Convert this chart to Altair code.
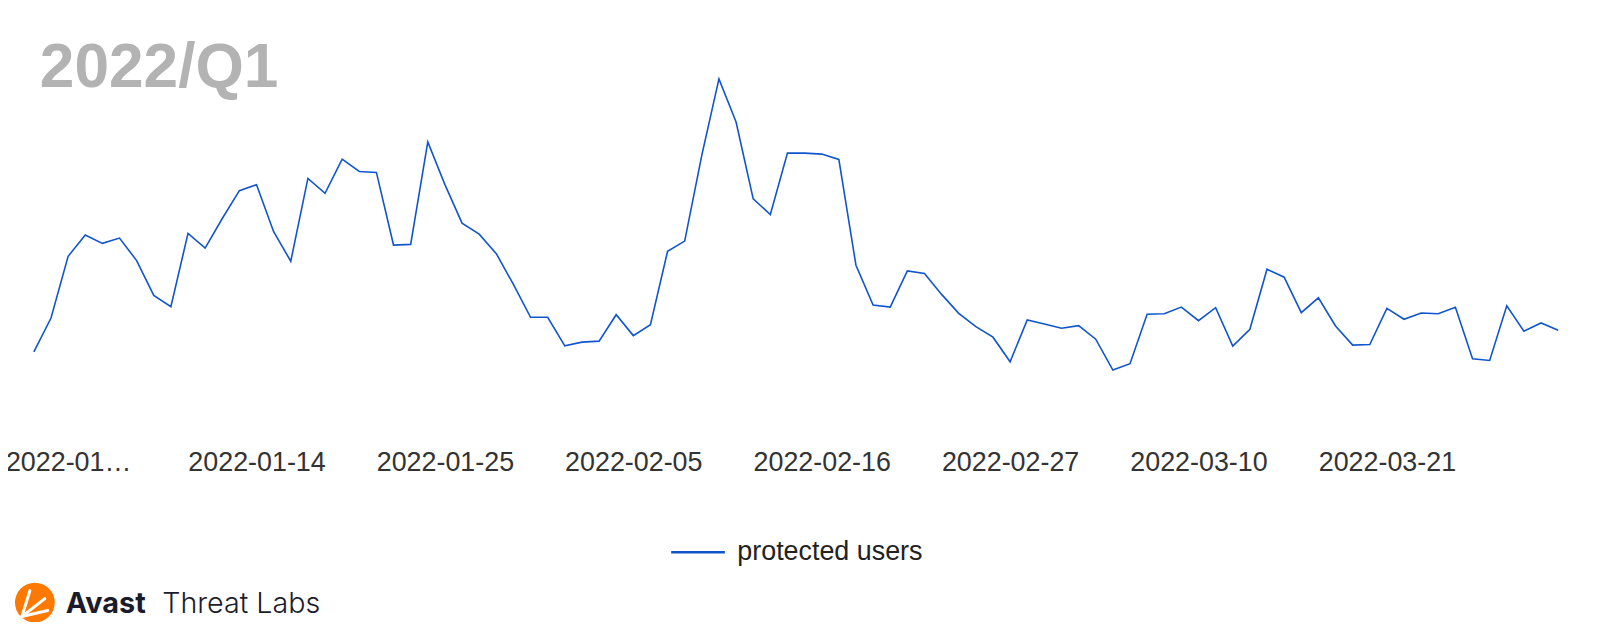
import altair as alt
import pandas as pd

# ---- data -------------------------------------------------------------
dates = pd.date_range("2022-01-01", "2022-03-31", freq="D").strftime("%Y-%m-%d").tolist()
protected_users = [
    48, 82, 144, 165.3, 157, 162.3, 139.7, 104.7, 93.3, 167,
    152.3, 182, 210, 216, 168.7, 139, 222.3, 207.3, 241.7, 229.3,
    228.3, 155.3, 156, 259, 216, 177.3, 166.3, 146.7, 115.7, 82.7,
    82.7, 54, 57.7, 58.7, 85.3, 64.3, 75.3, 149, 159.3, 245.7,
    322.3, 279, 201.7, 186, 247.7, 247.7, 246.7, 241.3, 135, 95,
    93, 129.3, 126.7, 105.7, 86.7, 73.3, 62.7, 38, 80, 76,
    71.7, 74.3, 60.7, 29.7, 36, 85.7, 86.3, 93, 79.3, 92.3,
    53.7, 70.7, 131, 123, 87.3, 102.3, 74, 54.7, 55.3, 91.7,
    80.7, 87, 86.3, 92.7, 41, 39.3, 94.3, 68.7, 77, 69.7,
]
series_name = "protected users"
tick_dates = ["2022-01-03", "2022-01-14", "2022-01-25", "2022-02-05",
              "2022-02-16", "2022-02-27", "2022-03-10", "2022-03-21"]
title_text = "2022/Q1"

df = pd.DataFrame({"date": dates, "value": protected_users, "series": series_name})


def ms(d):
    return int(pd.Timestamp(d, tz="UTC").timestamp() * 1000)


tick_ms = [ms(d) for d in tick_dates]

W, H = 1532, 392

line = alt.Chart(df).mark_line(strokeWidth=1.6).encode(
    x=alt.X(
        "date:T",
        scale=alt.Scale(type="utc", domain=[ms(dates[0]), ms(dates[-1])], nice=False),
        axis=alt.Axis(
            title=None, values=tick_ms, domain=False, ticks=False, tickSize=0, grid=False,
            labelExpr="datum.index == 0 ? '2022-01\u2026' : utcFormat(datum.value, '%Y-%m-%d')",
            labelFont="Liberation Sans", labelFontSize=27, labelColor="#333333",
            labelBaseline="middle", labelPadding=63, labelOverlap=False, labelFlush=False,
            labelLimit=400,
        ),
    ),
    y=alt.Y("value:Q", scale=alt.Scale(domain=[0, H], nice=False, zero=True), axis=None),
    color=alt.Color(
        "series:N",
        scale=alt.Scale(domain=[series_name], range=["#1155cc"]),
        legend=alt.Legend(
            title=None, orient="none", legendX=639, legendY=517, padding=0,
            symbolType="stroke", symbolSize=2916, symbolStrokeWidth=2.5,
            labelFont="Liberation Sans", labelFontSize=27, labelColor="#222222",
            labelOffset=11, labelLimit=500,
        ),
    ),
)

one = pd.DataFrame({"t": [title_text]})
title = alt.Chart(one).mark_text(
    font="Liberation Sans", fontWeight="bold", fontSize=62.5, color="#b3b3b3",
    align="left", baseline="alphabetic",
).encode(text="t:N", x=alt.value(6), y=alt.value(78))

# Avast Threat Labs logo
logo_df = pd.DataFrame({"a": ["Avast"], "b": ["Threat Labs"]})
circle = alt.Chart(logo_df).mark_point(
    shape="circle", filled=True, color="#ff7800", size=1600, opacity=1
).encode(x=alt.value(1), y=alt.value(596))
rays = alt.layer(*[
    alt.Chart(logo_df).mark_rule(color="white", strokeWidth=3, strokeCap="round").encode(
        x=alt.value(x1), y=alt.value(y1), x2=alt.value(x2), y2=alt.value(y2))
    for (x1, y1, x2, y2) in [(-12, 610, -4, 584), (-12, 610, 11, 592), (-12, 610, 14, 604)]
])
avast = alt.Chart(logo_df).mark_text(
    font="Inter", fontWeight="bold", fontSize=29, color="#1b1c2b",
    align="left", baseline="alphabetic",
).encode(text="a:N", x=alt.value(32), y=alt.value(607))
labs = alt.Chart(logo_df).mark_text(
    font="Inter", fontWeight=300, fontSize=28.8, color="#1b1c2b",
    align="left", baseline="alphabetic",
).encode(text="b:N", x=alt.value(129), y=alt.value(607))

chart = alt.layer(line, title, circle, rays, avast, labs).properties(
    width=W, height=H,
    autosize=alt.AutoSizeParams(type="none"),
    padding={"left": 26, "top": 0, "right": 34, "bottom": 222},
).configure_view(strokeWidth=0)

chart.save("out.html", embed_options={"renderer": "svg", "actions": False})
